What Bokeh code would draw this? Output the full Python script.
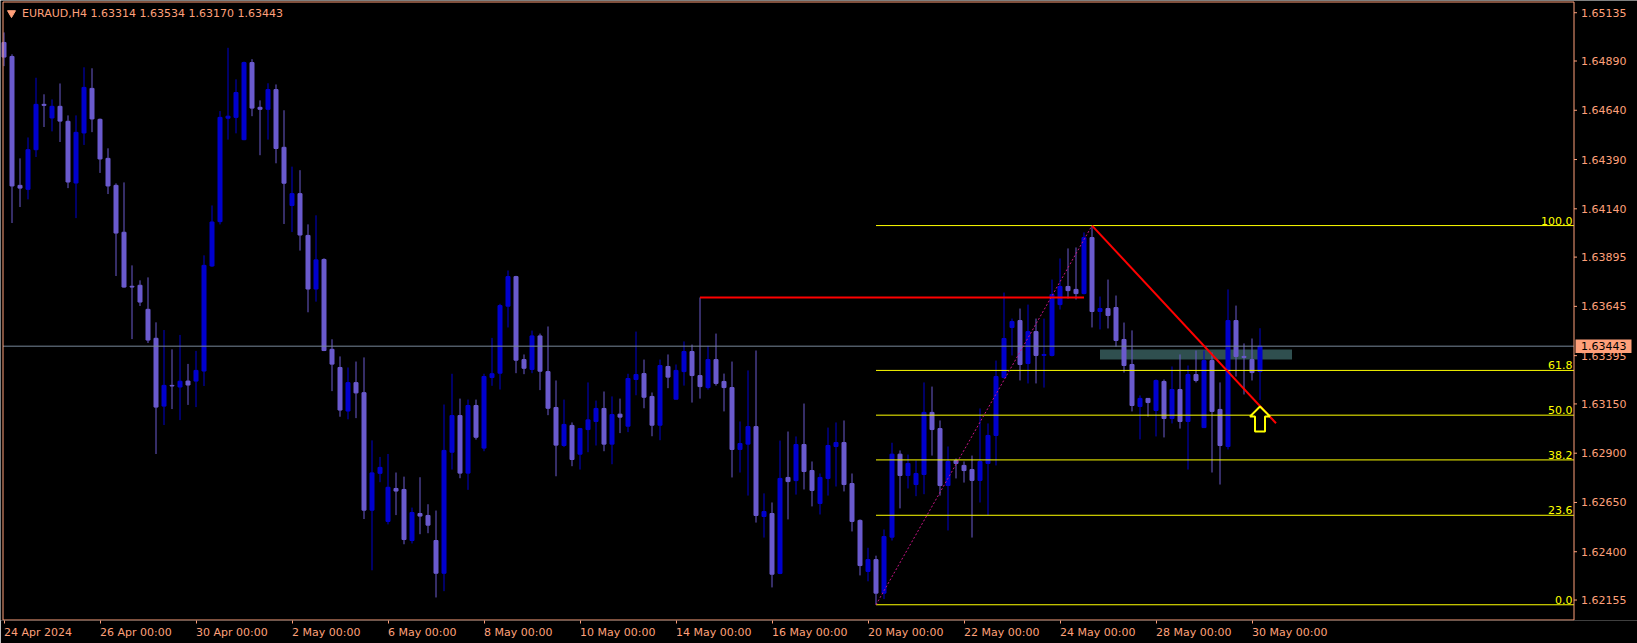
import numpy as np
from bokeh.plotting import figure
from bokeh.models import Range1d, FixedTicker, ColumnDataSource
from bokeh.core.properties import value
from bokeh.embed import file_html
from bokeh.resources import INLINE

# ---------------- data ----------------
HEADER = "EURAUD,H4  1.63314 1.63534 1.63170 1.63443"

OPEN = [1.64984, 1.64913, 1.64259, 1.64239, 1.64440, 1.64670, 1.64601, 1.64660, 1.64584, 1.64271,
        1.64525, 1.64751, 1.64594, 1.64396, 1.64259, 1.64021, 1.63747, 1.63752, 1.63630, 1.63483,
        1.63139, 1.63244, 1.63236, 1.63266, 1.63266, 1.63317, 1.63850, 1.64075, 1.64600, 1.64604,
        1.64491, 1.64882, 1.64655, 1.64645, 1.64745, 1.64452, 1.64157, 1.64217, 1.64005, 1.63733,
        1.63883, 1.63427, 1.63335, 1.63114, 1.63258, 1.63207, 1.62611, 1.62798, 1.62554, 1.62721,
        1.62716, 1.62457, 1.62594, 1.62584, 1.62457, 1.62291, 1.62905, 1.63091, 1.62799, 1.63142,
        1.62926, 1.63284, 1.63306, 1.63646, 1.63796, 1.63375, 1.63325, 1.63495, 1.63314, 1.63132,
        1.62939, 1.63041, 1.62895, 1.63020, 1.63061, 1.63127, 1.62946, 1.63098, 1.63037, 1.63274,
        1.63304, 1.63188, 1.63042, 1.63340, 1.63174, 1.63314, 1.63416, 1.63294, 1.63233, 1.63375,
        1.63264, 1.63233, 1.62919, 1.62946, 1.63035, 1.62579, 1.62594, 1.62290, 1.62777, 1.62761,
        1.62944, 1.62812, 1.62645, 1.62772, 1.62934, 1.62954, 1.62746, 1.62559, 1.62300, 1.62360,
        1.62190, 1.62474, 1.62895, 1.62787, 1.62741, 1.62792, 1.63107, 1.63025, 1.62736, 1.62863,
        1.62838, 1.62817, 1.62762, 1.62848, 1.62990, 1.63284, 1.63538, 1.63573, 1.63355, 1.63517,
        1.63396, 1.63396, 1.63654, 1.63746, 1.63731, 1.63710, 1.63994, 1.63619, 1.63634, 1.63639,
        1.63477, 1.63350, 1.63137, 1.63178, 1.63117, 1.63264, 1.63076, 1.63223, 1.63061, 1.63299,
        1.63030, 1.63370, 1.63122, 1.62934, 1.63573, 1.63391, 1.63375, 1.63314]

HIGH = [1.65035, 1.64924, 1.64396, 1.64502, 1.64805, 1.64721, 1.64695, 1.64776, 1.64614, 1.64614,
        1.64858, 1.64853, 1.64598, 1.64447, 1.64269, 1.64274, 1.63853, 1.63777, 1.63792, 1.63564,
        1.63525, 1.63427, 1.63500, 1.63353, 1.63419, 1.63904, 1.64157, 1.64636, 1.64957, 1.64797,
        1.64887, 1.64899, 1.64690, 1.64777, 1.64771, 1.64640, 1.64354, 1.64336, 1.64061, 1.64107,
        1.63889, 1.63478, 1.63391, 1.63335, 1.63365, 1.63386, 1.62965, 1.62881, 1.62896, 1.62802,
        1.62781, 1.62624, 1.62778, 1.62641, 1.62609, 1.63147, 1.63303, 1.63177, 1.63172, 1.63172,
        1.63303, 1.63485, 1.63658, 1.63827, 1.63800, 1.63401, 1.63522, 1.63507, 1.63543, 1.63269,
        1.63172, 1.63056, 1.63028, 1.63259, 1.63167, 1.63213, 1.63188, 1.63177, 1.63303, 1.63517,
        1.63375, 1.63208, 1.63375, 1.63401, 1.63350, 1.63467, 1.63451, 1.63690, 1.63445, 1.63507,
        1.63304, 1.63365, 1.63061, 1.63320, 1.63421, 1.62696, 1.62650, 1.62964, 1.63010, 1.62985,
        1.63152, 1.62858, 1.62797, 1.63030, 1.63056, 1.63066, 1.62797, 1.62564, 1.62420, 1.62380,
        1.62513, 1.62953, 1.62914, 1.62893, 1.62863, 1.63259, 1.63238, 1.63066, 1.62934, 1.62873,
        1.62858, 1.62888, 1.63127, 1.63051, 1.63370, 1.63715, 1.63583, 1.63634, 1.63654, 1.63583,
        1.63583, 1.63781, 1.63888, 1.63939, 1.63944, 1.64020, 1.64055, 1.63695, 1.63781, 1.63700,
        1.63563, 1.63523, 1.63193, 1.63180, 1.63274, 1.63274, 1.63340, 1.63401, 1.63345, 1.63421,
        1.63421, 1.63411, 1.63259, 1.63731, 1.63649, 1.63457, 1.63482, 1.63534]

LOW = [1.64864, 1.64068, 1.64149, 1.64188, 1.64403, 1.64555, 1.64533, 1.64479, 1.64245, 1.64093,
       1.64464, 1.64529, 1.64322, 1.64215, 1.63799, 1.63740, 1.63479, 1.63647, 1.63459, 1.62896,
       1.63043, 1.63124, 1.63068, 1.63145, 1.63134, 1.63241, 1.63845, 1.64061, 1.64491, 1.64523,
       1.64488, 1.64610, 1.64412, 1.64491, 1.64371, 1.64063, 1.64022, 1.63928, 1.63615, 1.63669,
       1.63418, 1.63215, 1.63085, 1.63072, 1.63078, 1.62566, 1.62306, 1.62753, 1.62539, 1.62586,
       1.62438, 1.62442, 1.62489, 1.62494, 1.62168, 1.62200, 1.62817, 1.62773, 1.62714, 1.62969,
       1.62910, 1.63242, 1.63223, 1.63538, 1.63306, 1.63301, 1.63306, 1.63220, 1.63093, 1.62783,
       1.62931, 1.62834, 1.62817, 1.62905, 1.62939, 1.62910, 1.62844, 1.63002, 1.63007, 1.63194,
       1.63128, 1.62986, 1.62966, 1.63230, 1.63172, 1.63243, 1.63157, 1.63177, 1.63223, 1.63243,
       1.63112, 1.62777, 1.62802, 1.62685, 1.62548, 1.62472, 1.62219, 1.62286, 1.62564, 1.62690,
       1.62716, 1.62630, 1.62589, 1.62685, 1.62731, 1.62706, 1.62503, 1.62280, 1.62250, 1.62131,
       1.62160, 1.62457, 1.62620, 1.62721, 1.62682, 1.62692, 1.62888, 1.62685, 1.62508, 1.62772,
       1.62751, 1.62472, 1.62650, 1.62584, 1.62838, 1.63279, 1.63396, 1.63269, 1.63254, 1.63254,
       1.63233, 1.63391, 1.63629, 1.63685, 1.63680, 1.63706, 1.63538, 1.63528, 1.63533, 1.63441,
       1.63309, 1.63112, 1.62970, 1.63086, 1.62985, 1.62980, 1.63051, 1.63025, 1.62817, 1.63259,
       1.63030, 1.62802, 1.62741, 1.62919, 1.63289, 1.63198, 1.63269, 1.63170]

CLOSE = [1.64910, 1.64256, 1.64245, 1.64440, 1.64670, 1.64665, 1.64660, 1.64585, 1.64276, 1.64528,
         1.64756, 1.64596, 1.64393, 1.64256, 1.64017, 1.63743, 1.63743, 1.63667, 1.63474, 1.63134,
         1.63244, 1.63241, 1.63265, 1.63246, 1.63320, 1.63853, 1.64073, 1.64604, 1.64610, 1.64730,
         1.64882, 1.64651, 1.64645, 1.64745, 1.64446, 1.64270, 1.64217, 1.64007, 1.63733, 1.63881,
         1.63421, 1.63352, 1.63119, 1.63258, 1.63206, 1.62611, 1.62800, 1.62828, 1.62727, 1.62708,
         1.62462, 1.62599, 1.62581, 1.62535, 1.62291, 1.62914, 1.63091, 1.62799, 1.63142, 1.62981,
         1.63289, 1.63303, 1.63649, 1.63796, 1.63372, 1.63331, 1.63495, 1.63316, 1.63128, 1.62941,
         1.63046, 1.62868, 1.63025, 1.63069, 1.63127, 1.62946, 1.63096, 1.63083, 1.63279, 1.63299,
         1.63184, 1.63042, 1.63345, 1.63286, 1.63320, 1.63416, 1.63294, 1.63238, 1.63375, 1.63254,
         1.63233, 1.62919, 1.62949, 1.63035, 1.62584, 1.62604, 1.62286, 1.62772, 1.62756, 1.62944,
         1.62807, 1.62711, 1.62777, 1.62939, 1.62954, 1.62741, 1.62554, 1.62330, 1.62360, 1.62190,
         1.62477, 1.62895, 1.62787, 1.62848, 1.62797, 1.63107, 1.63020, 1.62736, 1.62858, 1.62848,
         1.62812, 1.62762, 1.62858, 1.62990, 1.63289, 1.63482, 1.63568, 1.63350, 1.63517, 1.63396,
         1.63401, 1.63705, 1.63746, 1.63725, 1.63710, 1.63994, 1.63619, 1.63634, 1.63599, 1.63472,
         1.63345, 1.63142, 1.63178, 1.63157, 1.63269, 1.63076, 1.63223, 1.63061, 1.63299, 1.63269,
         1.63370, 1.63112, 1.62939, 1.63573, 1.63391, 1.63386, 1.63309, 1.63443]

X_TICK_BARS = [0, 12, 24, 36, 48, 60, 72, 84, 96, 108, 120, 132, 144, 156]
X_TICK_LABELS = ["24 Apr 2024", "26 Apr 00:00", "30 Apr 00:00", "2 May 00:00", "6 May 00:00",
                 "8 May 00:00", "10 May 00:00", "14 May 00:00", "16 May 00:00", "20 May 00:00",
                 "22 May 00:00", "24 May 00:00", "28 May 00:00", "30 May 00:00"]

Y_TICKS = [1.65135, 1.64890, 1.64640, 1.64390, 1.64140, 1.63895, 1.63645, 1.63395,
           1.63150, 1.62900, 1.62650, 1.62400, 1.62155]
Y_TICK_LABELS = ["1.65135", "1.64890", "1.64640", "1.64390", "1.64140", "1.63895", "1.63645",
                 "1.63395", "1.63150", "1.62900", "1.62650", "1.62400", "1.62155"]

BID = 1.63443
BID_LABEL = "1.63443"

FIB_LOW_BAR, FIB_LOW = 109, 1.62131
FIB_HIGH_BAR, FIB_HIGH = 136, 1.64055
FIB_LEVELS = [0.0, 23.6, 38.2, 50.0, 61.8, 100.0]
FIB_LABELS = ["0.0", "23.6", "38.2", "50.0", "61.8", "100.0"]

RESIST_BARS = [87, 135]
RESIST_PRICE = 1.63690
TREND_BARS = [136, 159]
TREND_PRICES = [1.64055, 1.63052]
ZONE_BARS = [137, 161]
ZONE_PRICES = [1.63375, 1.63426]
ARROW_BAR, ARROW_PRICE = 157, 1.63137

# ---------------- style / calibration ----------------
BG = "black"
FG = "#FFA07A"
BULL = "#0000CD"
BEAR = "#6A5ACD"
FONT = "DejaVu Sans"
FS = "11px"

W, H = 1637, 643
FRAME_H = 620                 # plotting canvas, price scale drawn inside on the right
BAR_PX = 8.0                  # candle spacing in px
FIRST_BAR_PX = 3.5            # x of bar 0 in px
PRICE_PER_PX = 0.00005074
TOP_PRICE = 1.65197           # price at y = 0 px
BORDER_L, BORDER_T, BORDER_R, BORDER_B = 2.5, 1.5, 1573.5, 619.5

X0 = -FIRST_BAR_PX / BAR_PX
X1 = X0 + W / BAR_PX
Y_TOP = TOP_PRICE
Y_BOT = TOP_PRICE - FRAME_H * PRICE_PER_PX


def px_x(px):
    return X0 + px / BAR_PX


def px_y(px):
    return Y_TOP - px * PRICE_PER_PX


# DejaVu Sans advance widths (em) used to left-align date labels on their ticks
CHAR_EM = {" ": 0.318, ":": 0.337, "A": 0.684, "p": 0.635, "r": 0.411, "M": 0.863,
           "a": 0.613, "y": 0.592}


def text_px(s):
    return sum(CHAR_EM.get(ch, 0.636) for ch in s) * 11.0


p = figure(frame_width=W, frame_height=FRAME_H,
           x_range=Range1d(X0, X1), y_range=Range1d(Y_BOT, Y_TOP),
           output_backend="svg", toolbar_location=None,
           x_axis_location="below", y_axis_location=None,
           background_fill_color=BG, border_fill_color=BG,
           min_border_left=0, min_border_top=0, min_border_right=0, min_border_bottom=H - FRAME_H)
p.grid.visible = False
p.outline_line_color = None

# time axis: tick marks at bar positions (minor), labels starting at each tick
label_pos = [b + text_px(t) / 2.0 / BAR_PX for b, t in zip(X_TICK_BARS, X_TICK_LABELS)]
xa = p.xaxis[0]
xa.ticker = FixedTicker(ticks=label_pos, minor_ticks=X_TICK_BARS)
xa.major_label_overrides = {pos: t for pos, t in zip(label_pos, X_TICK_LABELS)}
xa.axis_line_color = None
xa.major_tick_line_color = None
xa.major_tick_out = 3
xa.major_tick_in = 0
xa.minor_tick_line_color = FG
xa.minor_tick_out = 3
xa.minor_tick_in = 0
xa.major_label_standoff = 2
xa.major_label_text_color = FG
xa.major_label_text_font = FONT
xa.major_label_text_font_size = FS

# zone rectangle (background)
p.quad(left=[ZONE_BARS[0]], right=[ZONE_BARS[1]], bottom=[ZONE_PRICES[0]], top=[ZONE_PRICES[1]],
       fill_color="#2F4F4F", line_color=None)

# candles
o, h, l, c = map(np.array, (OPEN, HIGH, LOW, CLOSE))
idx = np.arange(len(o))
colors = np.where(c >= o, BULL, BEAR)
src = ColumnDataSource(dict(x=idx, top=np.maximum(o, c), bottom=np.minimum(o, c),
                            high=h, low=l, color=colors))
p.segment(x0="x", y0="low", x1="x", y1="high", line_color="color", line_width=1, source=src)
p.vbar(x="x", top="top", bottom="bottom", width=0.5, fill_color="color", line_color="color",
       line_width=1, source=src)

xl, xr = px_x(BORDER_L), px_x(BORDER_R)

# bid line
p.segment(x0=[xl], x1=[xr], y0=[BID], y1=[BID], line_color="#778899", line_width=1)

# fibonacci
fib_prices = [FIB_LOW + lv / 100.0 * (FIB_HIGH - FIB_LOW) for lv in FIB_LEVELS]
p.segment(x0=[FIB_LOW_BAR] * len(fib_prices), x1=[xr] * len(fib_prices),
          y0=fib_prices, y1=fib_prices, line_color="#FFFF00", line_width=1)
p.text(x=[px_x(BORDER_R - 1.5)] * len(fib_prices), y=fib_prices, text=FIB_LABELS,
       text_align="right", text_baseline="bottom", y_offset=-1,
       text_color="#FFFF00", text_font=value(FONT), text_font_size=FS)
p.line([FIB_LOW_BAR, FIB_HIGH_BAR], [FIB_LOW, FIB_HIGH], line_color="#C71585",
       line_width=1, line_dash="2 2")

# red lines
p.line(RESIST_BARS, [RESIST_PRICE, RESIST_PRICE], line_color="#FF0000", line_width=2)
p.line(TREND_BARS, TREND_PRICES, line_color="#FF0000", line_width=2)

# yellow hollow up arrow
ARROW_DX = [0, 10, 5, 5, -5, -5, -10]
ARROW_DY = [0, 10, 10, 25, 25, 10, 10]
p.patch([ARROW_BAR + d / BAR_PX for d in ARROW_DX],
        [ARROW_PRICE - d * PRICE_PER_PX for d in ARROW_DY],
        fill_color=BG, line_color="#FFFF00", line_width=2)

# chart border
p.segment(x0=[xl, xl, xr, xl], x1=[xr, xl, xr, xr],
          y0=[px_y(BORDER_T), px_y(BORDER_T), px_y(BORDER_T), px_y(BORDER_B)],
          y1=[px_y(BORDER_T), px_y(BORDER_B), px_y(BORDER_B), px_y(BORDER_B)],
          line_color=FG, line_width=1)

# price scale (right)
p.segment(x0=[xr] * len(Y_TICKS), x1=[px_x(BORDER_R + 3)] * len(Y_TICKS),
          y0=Y_TICKS, y1=Y_TICKS, line_color=FG, line_width=1)
p.text(x=[px_x(1580.5)] * len(Y_TICKS), y=Y_TICKS, text=Y_TICK_LABELS,
       text_align="left", text_baseline="middle", text_color=FG,
       text_font=value(FONT), text_font_size=FS)

# bid marker on the price scale
half_box = 6.75 * PRICE_PER_PX
p.quad(left=[px_x(1575)], right=[px_x(1631)], bottom=[BID - half_box], top=[BID + half_box],
       fill_color=FG, line_color=None)
p.text(x=[px_x(1580.5)], y=[BID], text=[BID_LABEL], text_align="left", text_baseline="middle",
       text_color="black", text_font=value(FONT), text_font_size=FS)

# header
p.scatter([px_x(11)], [px_y(12.5)], marker="inverted_triangle", size=8, color=FG)
p.text(x=[px_x(21.5)], y=[px_y(12.7)], text=[HEADER], text_align="left", text_baseline="middle",
       text_color=FG, text_font=value(FONT), text_font_size=FS)

open("out.html", "w").write(file_html(p, INLINE))
